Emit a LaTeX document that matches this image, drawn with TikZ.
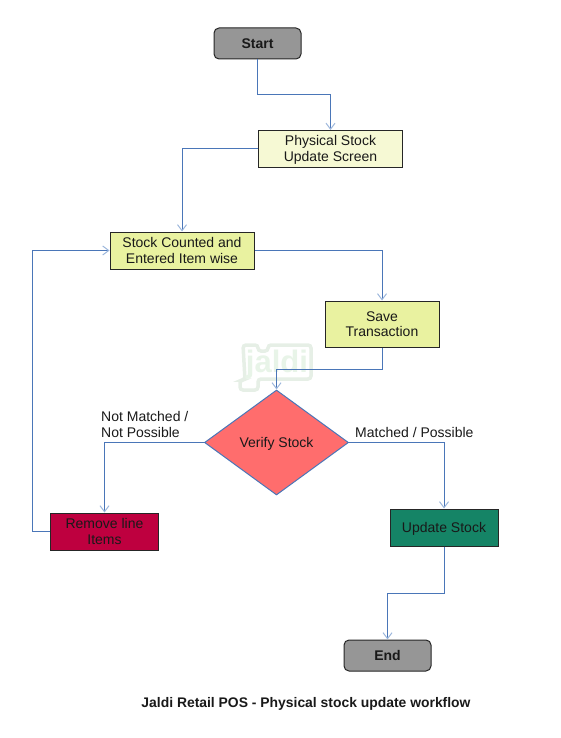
\documentclass[tikz,border=0pt]{standalone}
\usepackage{fontspec}
\setmainfont{Liberation Sans}
\usetikzlibrary{arrows.meta,shapes.geometric}
\definecolor{linkblue}{HTML}{4A76B8}
\definecolor{tipblue}{HTML}{9DB7DC}
\definecolor{paleyellow}{HTML}{F6F9D4}
\definecolor{lime}{HTML}{E9F2A0}
\definecolor{greyfill}{HTML}{969696}
\definecolor{redfill}{HTML}{FF6D6D}
\definecolor{crimson}{HTML}{BE003F}
\definecolor{teal}{HTML}{158466}
\definecolor{wmout}{HTML}{E6EFE6}
\definecolor{wmin}{HTML}{E8F4E8}
\newcommand{\lowr}[1]{\raisebox{-1pt}[10pt][3pt]{#1}}
\tikzset{
  x=1pt,y=-1pt,
  every node/.style={font=\fontsize{14}{16}\selectfont,align=center,text=black!90,inner sep=0pt},
  boxbase/.style={draw=black!85,line width=1pt,minimum height=37pt},
  termbox/.style={boxbase,rounded corners=5pt,fill=greyfill,minimum width=87pt,minimum height=31pt,font=\fontsize{14}{16}\selectfont\bfseries},
  flowlink/.style={draw=linkblue,line width=1pt,-{Straight Barb[length=6pt,width=9pt,color=tipblue,line width=1pt]}},
  lbl/.style={align=left}
}
\begin{document}
\begin{tikzpicture}
\useasboundingbox (0,0) rectangle (560,738);
% watermark
\draw[wmout,line width=3.5pt,fill=white,rounded corners=3pt] (243,345) -- (258,345) -- (258,351) -- (268,351) -- (268,345) -- (311,345) -- (311,379) -- (258,379) -- (258,390) -- (240,390) -- (240,380) -- (245,380) -- cycle;
\node[text=wmin,font=\fontsize{31}{31}\selectfont\bfseries] (wm) at (277,364) {jaldi};
\node[termbox] (start) at (257.5,43.5) {Start};
\node[boxbase,fill=paleyellow,minimum width=144pt] (phys) at (330.5,149) {\lowr{Physical Stock}\\\lowr{Update Screen}};
\node[boxbase,fill=lime,minimum width=144pt] (count) at (182,250.5) {Stock Counted and\\Entered Item wise};
\node[boxbase,fill=lime,minimum width=114pt,minimum height=46pt] (save) at (382,324) {\lowr{Save}\\Transaction};
\node[diamond,draw=linkblue,line width=1pt,fill=redfill,minimum width=144pt,minimum height=105pt,aspect=1.36] (verify) at (276.5,442.5) {\lowr{Verify Stock}};
\node[boxbase,fill=crimson,minimum width=108pt] (remove) at (104.5,531.5) {Remove line\\Items};
\node[boxbase,fill=teal,minimum width=108pt] (update) at (444,527.5) {\lowr{Update Stock}};
\node[termbox] (end) at (387.5,655.5) {End};
\coordinate (a1) at (257.5,95);
\coordinate (a2) at (330.5,95);
\draw[flowlink] (start.south) -- (a1) -- (a2) -- (phys.north);
\coordinate (b1) at (182,149);
\draw[flowlink] (phys.west) -- (b1) -- (count.north);
\coordinate (c1) at (382,250.5);
\draw[flowlink] (count.east) -- (c1) -- (save.north);
\coordinate (d1) at (382,369);
\coordinate (d2) at (276.5,369);
\draw[flowlink] (save.south) -- (d1) -- (d2) -- (verify.north);
\coordinate (e1) at (104.5,442.5);
\draw[flowlink] (verify.west) -- (e1) -- (remove.north);
\coordinate (f1) at (444,442.5);
\draw[flowlink] (verify.east) -- (f1) -- (update.north);
\coordinate (g1) at (32,531.5);
\coordinate (g2) at (32,250.5);
\draw[flowlink] (remove.west) -- (g1) -- (g2) -- (count.west);
\coordinate (h1) at (444,593);
\coordinate (h2) at (387.5,593);
\draw[flowlink] (update.south) -- (h1) -- (h2) -- (end.north);
\node[lbl,anchor=north west] (nm) at (101,411.5) {Not Matched /\\Not Possible};
\node[lbl,anchor=west] (mp) at (355,432) {Matched / Possible};
\node[font=\fontsize{13.9}{16}\selectfont\bfseries] (cap) at (306,704) {Jaldi Retail POS - Physical stock update workflow};
\end{tikzpicture}
\end{document}
